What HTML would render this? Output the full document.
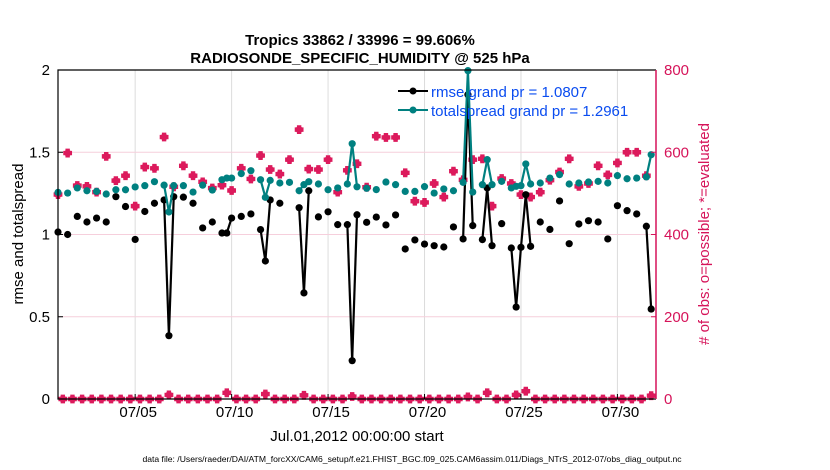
<!DOCTYPE html>
<html><head><meta charset="utf-8"><style>
body{margin:0;background:#fff;}
svg{display:block;font-family:"Liberation Sans",Arial,sans-serif;}
</style></head><body>
<svg id="chart" width="830" height="470" viewBox="0 0 830 470">
<rect width="830" height="470" fill="#fff"/>
<text x="360" y="45" text-anchor="middle" font-size="15" font-weight="bold">Tropics 33862 / 33996 = 99.606%</text>
<text x="360" y="63" text-anchor="middle" font-size="15" font-weight="bold">RADIOSONDE_SPECIFIC_HUMIDITY @ 525 hPa</text>
<g id="grid"></g>
<g id="series"></g>
<g id="axes"></g>
<text transform="translate(23,234) rotate(-90)" text-anchor="middle" font-size="15">rmse and totalspread</text>
<text transform="translate(709,234) rotate(-90)" text-anchor="middle" font-size="15" fill="#d6145a"># of obs: o=possible; *=evaluated</text>
<text x="357" y="441" text-anchor="middle" font-size="15">Jul.01,2012 00:00:00 start</text>
<text x="412" y="462" text-anchor="middle" font-size="8.6">data file: /Users/raeder/DAI/ATM_forcXX/CAM6_setup/f.e21.FHIST_BGC.f09_025.CAM6assim.011/Diags_NTrS_2012-07/obs_diag_output.nc</text>
<g>
<line x1="398" y1="91" x2="428" y2="91" stroke="#000" stroke-width="2"/><circle cx="413" cy="91" r="3.5" fill="#000"/>
<text x="431" y="97" font-size="15" fill="#0a4cf0">rmse grand pr = 1.0807</text>
<line x1="398" y1="110" x2="428" y2="110" stroke="#008080" stroke-width="2"/><circle cx="413" cy="110" r="3.5" fill="#008080"/>
<text x="431" y="116" font-size="15" fill="#0a4cf0">totalspread grand pr = 1.2961</text>
</g>
</svg>
<script>
const N = 124;
const rmseBins = [0,2,4,6,8,10,12,14,16,18,20,22,23,24,26,28,30,32,34,35,36,38,40,42,43,44,46,50,51,52,54,56,58,60,61,62,64,66,68,70,72,74,76,78,80,82,84,85,86,88,89,90,92,94,95,96,97,98,100,102,104,106,108,110,112,114,116,118,120,122,123];
const rmseVals = [1.015,1.00,1.11,1.076,1.10,1.076,1.23,1.17,0.97,1.14,1.19,1.21,0.385,1.23,1.227,1.19,1.04,1.076,1.009,1.009,1.10,1.11,1.125,1.03,0.839,1.21,1.19,1.163,0.645,1.266,1.107,1.138,1.06,1.06,0.233,1.12,1.074,1.106,1.058,1.119,0.912,0.967,0.942,0.932,0.924,1.046,0.973,1.85,1.054,0.969,1.283,0.932,1.066,0.918,0.559,0.922,1.242,0.928,1.076,1.031,1.204,0.944,1.064,1.084,1.076,0.973,1.175,1.145,1.125,1.05,0.547];
const spreadBins = [0,2,4,6,8,10,12,14,16,18,20,22,23,24,26,28,30,32,34,35,36,38,40,42,43,44,46,48,50,51,52,54,56,58,60,61,62,64,66,68,70,72,74,76,78,80,82,84,85,86,88,89,90,92,94,95,96,97,98,100,102,104,106,108,110,112,114,116,118,120,122,123];
const spreadVals = [1.256,1.252,1.283,1.266,1.262,1.246,1.272,1.272,1.289,1.297,1.321,1.30,1.137,1.297,1.297,1.258,1.30,1.27,1.333,1.343,1.343,1.37,1.388,1.333,1.226,1.329,1.313,1.317,1.266,1.303,1.321,1.307,1.272,1.283,1.307,1.552,1.29,1.281,1.273,1.319,1.303,1.262,1.262,1.291,1.252,1.277,1.266,1.317,1.996,1.258,1.303,1.455,1.303,1.323,1.283,1.293,1.297,1.429,1.307,1.313,1.343,1.364,1.307,1.313,1.319,1.323,1.313,1.358,1.339,1.343,1.35,1.485];
const obsEven = [497,598,519,517,503,590,531,543,469,564,561,637,516,567,543,528,513,520,507,561,535,592,558,547,582,655,559,558,582,503,556,572,515,639,636,636,550,481,478,524,491,554,533,582,584,469,536,524,497,491,503,532,552,584,517,524,567,545,574,600,600,543];
const obsOddBins = [23,35,43,51,61,85,89,95,97,123];
const obsOddVals = [10,15,12,9,6,5,15,10,19,8];
const xTickDays = [5,10,15,20,25,30];
const xTickLabels = ["07/05","07/10","07/15","07/20","07/25","07/30"];
const yTicks = [0,0.5,1,1.5,2];
const yTickLabels = ["0","0.5","1","1.5","2"];
const y2Ticks = [0,200,400,600,800];

const X0=58, X1=656, Y0=399, Y1=70;
const xBin = k => X0 + k*(X1-X0)/N;
const xDay = d => X0 + (d-1)*(X1-X0)/31;
const yL = v => Y0 - v*(Y0-Y1)/2;
const yR = v => Y0 - v*(Y0-Y1)/800;
const NS="http://www.w3.org/2000/svg";
function mk(tag, attrs, parent){const e=document.createElementNS(NS,tag);for(const k in attrs)e.setAttribute(k,attrs[k]);parent.appendChild(e);return e;}
const grid=document.getElementById('grid'), ser=document.getElementById('series'), ax=document.getElementById('axes');

xTickDays.forEach((d,i)=>{
  const l=mk('line',{x1:xDay(d),x2:xDay(d),y1:Y1,y2:Y0,stroke:'#dcdcdc','stroke-width':1},grid);
  
  
  mk('line',{x1:xDay(d),x2:xDay(d),y1:Y0,y2:Y0-5,stroke:'#000'},ax);
  const tx=mk('text',{x:xDay(d)+3,y:417,'text-anchor':'middle','font-size':15},ax);
  tx.textContent=xTickLabels[i];
  
  
});
yTicks.forEach((v,i)=>{
  if(v>0&&v<2){const g=mk('line',{x1:X0,x2:X1,y1:yL(v),y2:yL(v),stroke:'#f6cfdc','stroke-width':1},grid);
  
  }
  mk('line',{x1:X0,x2:X0+5,y1:yL(v),y2:yL(v),stroke:'#000'},ax);
  const tx=mk('text',{x:50,y:yL(v)+5,'text-anchor':'end','font-size':15},ax);
  tx.textContent=yTickLabels[i];
  
  
});
y2Ticks.forEach(v=>{
  mk('line',{x1:X1-5,x2:X1,y1:yR(v),y2:yR(v),stroke:'#d6145a'},ax);
  const tx=mk('text',{x:664,y:yR(v)+5,'font-size':15,fill:'#d6145a'},ax);
  tx.textContent=String(v);
  
  
});
const frame=mk('path',{d:`M${X1},${Y1}H${X0}V${Y0}H${X1}`,fill:'none',stroke:'#000','stroke-width':1.2},ax);


const raxis=mk('line',{x1:X1,x2:X1,y1:Y1,y2:Y0,stroke:'#d6145a','stroke-width':1.5},ax);



function star(cx,cy){
  const s=4.4,h=2.2;
  const p=mk('path',{d:`M${cx-h},${cy-s}H${cx+h}V${cy-h}H${cx+s}V${cy+h}H${cx+h}V${cy+s}H${cx-h}V${cy+h}H${cx-s}V${cy-h}H${cx-h}Z`,fill:'#dc1a5c'},ser);
  mk('circle',{cx:cx,cy:cy,r:3.5,fill:'#dc1a5c'},ser);
  return p;
}
for(let k=0;k<N;k++){
  let v;
  if(k%2===0){v=obsEven[k/2];}
  else{const j=obsOddBins.indexOf(k);v=j>=0?obsOddVals[j]:0;}
  const m=star(xBin(k),yR(v));
  
  
}
function drawSeries(bins,vals,color,name){
  for(let i=1;i<bins.length;i++){
    if(bins[i]-bins[i-1]===1){
      const l=mk('line',{x1:xBin(bins[i-1]),y1:yL(vals[i-1]),x2:xBin(bins[i]),y2:yL(vals[i]),stroke:color,'stroke-width':2.2},ser);
      
      
    }
  }
  bins.forEach((k,i)=>{
    const c=mk('circle',{cx:xBin(k),cy:yL(vals[i]),r:3.6,fill:color},ser);
    
    
  });
}
drawSeries(rmseBins,rmseVals,'#000','rmse');
drawSeries(spreadBins,spreadVals,'#008080','totalspread');
</script>
</body></html>
